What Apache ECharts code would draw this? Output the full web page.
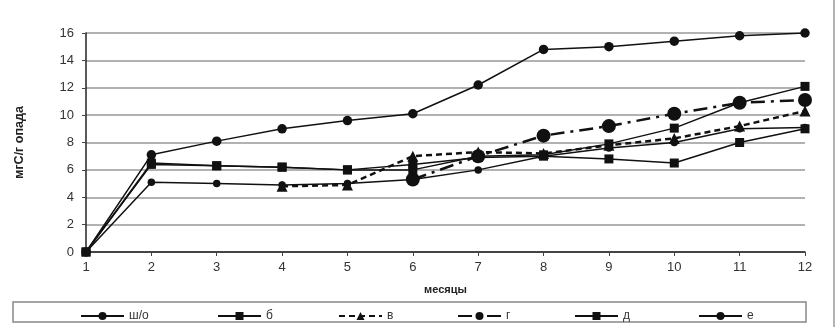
<!DOCTYPE html>
<html><head><meta charset="utf-8">
<script src="https://cdn.jsdelivr.net/npm/echarts@6/dist/echarts.min.js"></script>
<style>html,body{margin:0;padding:0;background:#fff}#c{width:836px;height:327px}</style>
</head><body><div id="c"></div>
<script>
const months = ['1','2','3','4','5','6','7','8','9','10','11','12'];
const yTicks = [0,2,4,6,8,10,12,14,16];
const seriesNames = ['ш/о','б','в','г','д','е'];
const sho = [0, 5.1, 5.0, 4.9, 5.0, 5.3, 6.0, 7.0, 7.6, 8.0, 9.0, 9.1];
const bb  = [0, 6.5, 6.3, 6.2, 6.0, 6.0, 7.0, 7.1, 7.9, 9.05, 10.9, 12.1];
const vv  = [null, null, null, 4.8, 4.9, 7.0, 7.3, 7.2, 7.8, 8.3, 9.2, 10.3];
const gg  = [null, null, null, null, null, 5.3, 7.0, 8.5, 9.2, 10.1, 10.9, 11.1];
const dd  = [0, 6.4, 6.3, 6.2, 6.0, 6.4, 6.9, 7.0, 6.8, 6.5, 8.0, 9.0];
const ee  = [0, 7.1, 8.1, 9.0, 9.6, 10.1, 12.2, 14.8, 15.0, 15.4, 15.8, 16.0];

const chart = echarts.init(document.getElementById('c'), null, {renderer:'canvas'});
const FONT = 'Liberation Sans, Arial, sans-serif';
const black = '#111';
function s(name, data, symbol, size, lineType, width, z){
  return {name, type:'line', data, symbol, symbolSize:size, showAllSymbol:true,
    itemStyle:{color:black}, lineStyle:{color:black, width, type:lineType}, z: z};
}
const legendLefts = [75, 212, 333, 452, 569, 693];
chart.setOption({
  animation:false,
  backgroundColor:'#fff',
  grid:{left:86, right:31, top:33, bottom:75},
  xAxis:{type:'category', data:months, boundaryGap:false,
    axisLine:{lineStyle:{color:'#222', width:1.5}},
    axisTick:{show:true, length:4, lineStyle:{color:'#444'}},
    axisLabel:{color:'#333', fontSize:13, fontFamily:FONT, margin:9},
    name:'месяцы', nameLocation:'middle', nameGap:32,
    nameTextStyle:{color:'#222', fontSize:11, fontWeight:'bold', fontFamily:FONT}},
  yAxis:{type:'value', min:yTicks[0], max:yTicks[yTicks.length-1], interval:2,
    axisLine:{show:true, lineStyle:{color:'#222', width:1.5}},
    axisTick:{show:true, length:4, lineStyle:{color:'#444'}},
    axisLabel:{color:'#333', fontSize:13, fontFamily:FONT, margin:12},
    splitLine:{lineStyle:{color:'#999', width:1.5}},
    name:'мгС/г опада', nameLocation:'middle', nameGap:60,
    nameTextStyle:{color:'#222', fontSize:12.5, fontWeight:'bold', fontFamily:FONT}},
  legend: seriesNames.map((n,i)=>({data:[n], left:legendLefts[i], top:305, itemWidth:43, itemHeight:10,
    itemGap:4, textStyle:{color:'#333', fontSize:12, fontFamily:FONT}})),
  graphic:[
    {type:'rect', shape:{x:13, y:302, width:793, height:20}, style:{fill:'none', stroke:'#888', lineWidth:1.5}, silent:true},
    {type:'line', shape:{x1:834, y1:0, x2:834, y2:327}, style:{stroke:'#999', lineWidth:1.5}, silent:true}
  ],
  series:[
    s(seriesNames[0], sho, 'circle', 7.5, 'solid', 1.5, 3),
    s(seriesNames[1], bb, 'rect', 9, 'solid', 1.5, 4),
    s(seriesNames[2], vv, 'triangle', 11, [6,4], 2.5, 3),
    s(seriesNames[3], gg, 'circle', 14, [14,6,3,6], 2.5, 3),
    s(seriesNames[4], dd, 'rect', 9, 'solid', 1.5, 3),
    s(seriesNames[5], ee, 'circle', 9.5, 'solid', 1.5, 3)
  ]
});
</script></body></html>
